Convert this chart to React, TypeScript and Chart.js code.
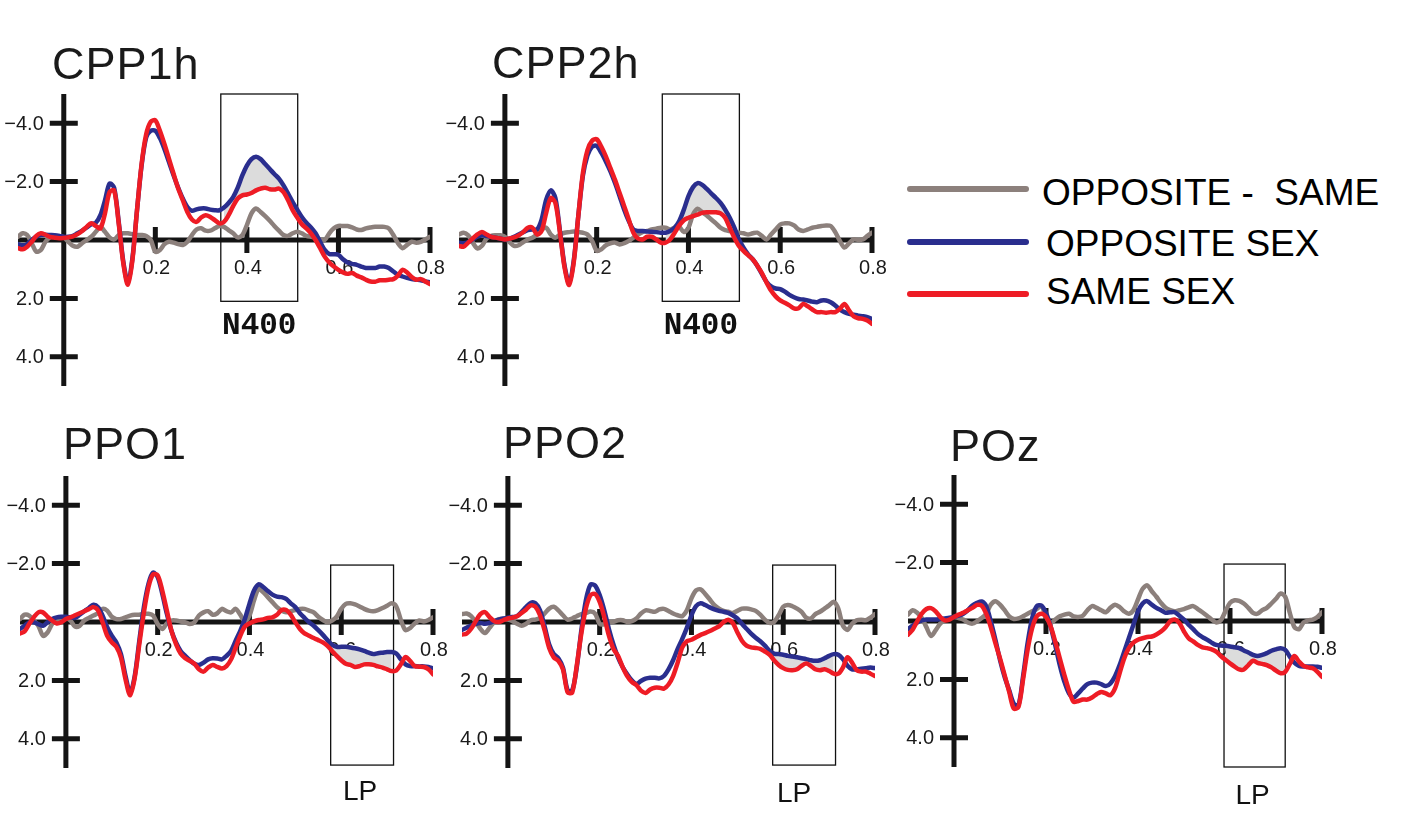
import React, { useEffect, useRef } from "react";
import { Chart, registerables } from "chart.js";

Chart.register(...registerables);

// ---------- data ----------
const TIME = [
  -0.1, -0.09, -0.08, -0.07, -0.06, -0.05, -0.04, -0.03, -0.02, -0.01,
  0.0, 0.01, 0.02, 0.03, 0.04, 0.05, 0.06, 0.07, 0.08, 0.09,
  0.1, 0.11, 0.12, 0.13, 0.14, 0.15, 0.16, 0.17, 0.18, 0.19,
  0.2, 0.21, 0.22, 0.23, 0.24, 0.25, 0.26, 0.27, 0.28, 0.29,
  0.3, 0.31, 0.32, 0.33, 0.34, 0.35, 0.36, 0.37, 0.38, 0.39,
  0.4, 0.41, 0.42, 0.43, 0.44, 0.45, 0.46, 0.47, 0.48, 0.49,
  0.5, 0.51, 0.52, 0.53, 0.54, 0.55, 0.56, 0.57, 0.58, 0.59,
  0.6, 0.61, 0.62, 0.63, 0.64, 0.65, 0.66, 0.67, 0.68, 0.69,
  0.7, 0.71, 0.72, 0.73, 0.74, 0.75, 0.76, 0.77, 0.78, 0.79, 0.8,
];

const X_TICKS = [0.2, 0.4, 0.6, 0.8];
const X_TICK_LABELS = ["0.2", "0.4", "0.6", "0.8"];
const Y_TICKS = [-4, -2, 2, 4];
const Y_TICK_LABELS = ["\u22124.0", "\u22122.0", "2.0", "4.0"];

const N400_WINDOW = [0.343, 0.511];
const LP_WINDOW = [0.577, 0.714];
const POZ_LP_WINDOW = [0.587, 0.72];

const SERIES_NAMES = ["OPPOSITE -  SAME", "OPPOSITE SEX", "SAME SEX"];

const CPP1H_SAME = [
  0.28, 0.32, 0.23, 0.06, -0.14, -0.23, -0.18, -0.11, -0.08, -0.06,
  -0.07, -0.09, -0.12, -0.2, -0.31, -0.45, -0.57, -0.48, -0.4, -0.91,
  -1.64, -1.7, -0.57, 0.79, 1.53, 0.68, -1.02, -2.6, -3.62, -4.05,
  -4.1, -3.74, -3.28, -2.77, -2.26, -1.76, -1.36, -0.96, -0.7, -0.62,
  -0.77, -0.85, -0.79, -0.68, -0.57, -0.62, -0.85, -1.16, -1.42, -1.53,
  -1.56, -1.61, -1.7, -1.76, -1.79, -1.74, -1.73, -1.76, -1.64, -1.36,
  -1.02, -0.77, -0.54, -0.4, -0.23, 0, 0.28, 0.57, 0.77, 0.91,
  1.02, 1.11, 1.16, 1.13, 1.22, 1.28, 1.36, 1.42, 1.43, 1.38,
  1.38, 1.36, 1.34, 1.22, 1.02, 1.11, 1.27, 1.36, 1.34, 1.42, 1.51,
];
const CPP1H_OPP = [
  0.14, 0.18, 0.14, 0, -0.11, -0.17, -0.18, -0.17, -0.16, -0.14,
  -0.11, -0.11, -0.14, -0.23, -0.32, -0.43, -0.54, -0.59, -0.85, -1.36,
  -1.93, -1.79, -0.62, 0.74, 1.45, 0.62, -1.02, -2.55, -3.51, -3.74,
  -3.74, -3.49, -3.11, -2.66, -2.21, -1.79, -1.42, -1.13, -1.0, -1.05,
  -1.08, -1.08, -1.04, -1.02, -1.02, -1.11, -1.27, -1.47, -1.79, -2.21,
  -2.55, -2.77, -2.85, -2.77, -2.6, -2.43, -2.26, -2.1, -1.87, -1.59,
  -1.3, -1.04, -0.79, -0.59, -0.43, -0.23, 0.06, 0.34, 0.48, 0.49,
  0.51, 0.66, 0.77, 0.82, 0.85, 0.91, 0.96, 0.96, 0.96, 0.91,
  0.91, 0.96, 1.08, 1.19, 1.25, 1.3, 1.34, 1.36, 1.38, 1.42, 1.45,
];
const CPP1H_DIFF = [
  -0.11, -0.23, -0.17, 0.11, 0.4, 0.34, 0.06, -0.09, -0.11, -0.14,
  -0.09, 0.06, 0.2, 0.23, 0.11, 0, -0.11, -0.28, -0.45, -0.28,
  -0.09, -0.02, -0.17, -0.23, -0.23, -0.2, -0.17, -0.17, -0.14, 0,
  0.4, 0.34, 0.14, 0.06, 0.09, 0.14, 0.17, 0.06, -0.17, -0.36,
  -0.4, -0.32, -0.32, -0.4, -0.48, -0.45, -0.34, -0.23, -0.09, -0.17,
  -0.51, -0.91, -1.08, -0.96, -0.82, -0.66, -0.48, -0.32, -0.17, -0.14,
  -0.23, -0.28, -0.23, -0.14, -0.11, -0.09, -0.02, 0, -0.23, -0.4,
  -0.48, -0.48, -0.48, -0.43, -0.36, -0.34, -0.4, -0.43, -0.45, -0.45,
  -0.45, -0.4, -0.17, 0.11, 0.28, 0.17, 0.06, 0.09, 0.06, -0.02, -0.11,
];

const CPP2H_SAME = [
  0.2, 0.23, 0.09, -0.05, -0.19, -0.27, -0.19, -0.11, -0.08, -0.05,
  -0.02, -0.05, -0.09, -0.16, -0.27, -0.42, -0.42, -0.19, -0.31, -0.93,
  -1.44, -1.27, -0.25, 0.94, 1.54, 0.77, -0.82, -2.29, -3.08, -3.4,
  -3.45, -3.2, -2.86, -2.46, -2.06, -1.61, -1.16, -0.7, -0.25, -0.05,
  -0.02, -0.11, -0.11, -0.02, 0.09, 0.09, -0.02, -0.25, -0.5, -0.68,
  -0.76, -0.82, -0.87, -0.93, -0.95, -0.95, -0.95, -0.91, -0.76, -0.42,
  -0.08, 0.2, 0.37, 0.52, 0.66, 0.88, 1.13, 1.45, 1.73, 1.93,
  2.07, 2.15, 2.24, 2.34, 2.34, 2.19, 2.27, 2.38, 2.47, 2.47,
  2.49, 2.47, 2.47, 2.36, 2.19, 2.41, 2.61, 2.68, 2.7, 2.76, 2.87,
];
const CPP2H_OPP = [
  0.09, 0.11, 0.07, -0.02, -0.11, -0.16, -0.14, -0.11, -0.08, -0.05,
  -0.02, -0.05, -0.11, -0.19, -0.27, -0.34, -0.36, -0.36, -0.7, -1.38,
  -1.7, -1.44, -0.31, 0.88, 1.47, 0.71, -0.82, -2.2, -2.9, -3.2,
  -3.22, -2.99, -2.69, -2.35, -1.95, -1.5, -1.04, -0.65, -0.36, -0.31,
  -0.31, -0.29, -0.28, -0.27, -0.25, -0.25, -0.31, -0.42, -0.65, -1.04,
  -1.5, -1.81, -1.95, -1.89, -1.75, -1.59, -1.44, -1.27, -1.04, -0.76,
  -0.42, -0.02, 0.26, 0.49, 0.66, 0.88, 1.16, 1.43, 1.59, 1.66,
  1.68, 1.77, 1.88, 1.96, 2.02, 2.04, 2.07, 2.11, 2.13, 2.07,
  2.07, 2.13, 2.24, 2.38, 2.47, 2.53, 2.56, 2.59, 2.61, 2.64, 2.7,
];
const CPP2H_DIFF = [
  -0.19, -0.25, -0.16, 0.09, 0.29, 0.2, -0.05, -0.14, -0.16, -0.16,
  -0.11, 0.07, 0.2, 0.18, 0.07, -0.02, -0.08, -0.19, -0.36, -0.42,
  -0.19, -0.08, -0.19, -0.25, -0.27, -0.29, -0.27, -0.25, -0.19, 0.03,
  0.37, 0.32, 0.18, 0.11, 0.09, 0.15, 0.11, 0.03, -0.08, -0.19,
  -0.27, -0.31, -0.36, -0.39, -0.42, -0.42, -0.36, -0.42, -0.45, -0.27,
  -0.42, -0.87, -1.07, -0.95, -0.84, -0.7, -0.57, -0.42, -0.34, -0.31,
  -0.27, -0.25, -0.23, -0.19, -0.23, -0.25, -0.14, -0.02, -0.19, -0.36,
  -0.53, -0.57, -0.57, -0.5, -0.36, -0.31, -0.36, -0.42, -0.45, -0.48,
  -0.5, -0.48, -0.27, 0.03, 0.26, 0.11, -0.02, 0, -0.02, -0.14, -0.25,
];

const PPO1_SAME = [
  0.39, 0.32, 0.07, -0.16, -0.33, -0.33, -0.18, -0.05, 0.05, 0.01,
  -0.1, -0.16, -0.23, -0.3, -0.37, -0.44, -0.51, -0.4, 0.01, 0.47,
  0.7, 0.85, 1.22, 1.97, 2.51, 1.91, 0.76, -0.33, -1.2, -1.63,
  -1.6, -1.08, -0.39, 0.3, 0.76, 1.08, 1.24, 1.33, 1.43, 1.62,
  1.7, 1.56, 1.47, 1.54, 1.59, 1.51, 1.28, 0.87, 0.47, 0.16,
  0.05, -0.02, -0.07, -0.09, -0.14, -0.16, -0.25, -0.41, -0.41, -0.25,
  0.01, 0.24, 0.39, 0.47, 0.55, 0.62, 0.7, 0.82, 0.99, 1.16,
  1.31, 1.43, 1.47, 1.54, 1.51, 1.45, 1.45, 1.47, 1.52, 1.56,
  1.62, 1.68, 1.66, 1.45, 1.2, 1.33, 1.51, 1.53, 1.54, 1.62, 1.79,
];
const PPO1_OPP = [
  0.24, 0.13, 0.01, 0.01, 0.07, 0.13, 0.01, -0.1, -0.16, -0.18,
  -0.18, -0.16, -0.14, -0.25, -0.37, -0.48, -0.59, -0.51, -0.22, 0.18,
  0.47, 0.7, 1.1, 1.85, 2.43, 1.85, 0.64, -0.51, -1.31, -1.69,
  -1.54, -0.97, -0.28, 0.3, 0.7, 0.99, 1.16, 1.31, 1.43, 1.47,
  1.39, 1.28, 1.24, 1.25, 1.28, 1.16, 0.99, 0.64, 0.3, -0.1,
  -0.62, -1.08, -1.29, -1.2, -1.06, -0.94, -0.87, -0.85, -0.79, -0.64,
  -0.51, -0.3, -0.14, 0.01, 0.13, 0.28, 0.44, 0.62, 0.78, 0.85,
  0.85, 0.85, 0.87, 0.9, 0.94, 0.99, 1.05, 1.1, 1.07, 1.05,
  1.03, 1.03, 1.08, 1.28, 1.45, 1.51, 1.51, 1.52, 1.52, 1.54, 1.59,
];
const PPO1_DIFF = [
  -0.1, -0.25, -0.22, -0.05, 0.13, 0.47, 0.36, 0.07, -0.07, -0.14,
  -0.14, -0.05, 0.16, 0.13, -0.05, -0.14, -0.22, -0.3, -0.45, -0.39,
  -0.18, -0.1, -0.1, -0.16, -0.22, -0.25, -0.25, -0.28, -0.28, -0.22,
  0.07, 0.24, 0.05, -0.05, -0.05, -0.02, 0.01, 0.07, 0.01, -0.22,
  -0.33, -0.37, -0.25, -0.3, -0.45, -0.37, -0.33, -0.45, -0.25, -0.02,
  -0.22, -0.74, -1.14, -1.02, -0.85, -0.68, -0.51, -0.39, -0.33, -0.37,
  -0.41, -0.45, -0.45, -0.39, -0.33, -0.18, -0.07, 0.01, -0.05, -0.18,
  -0.45, -0.62, -0.64, -0.6, -0.53, -0.45, -0.39, -0.37, -0.41, -0.48,
  -0.56, -0.64, -0.53, -0.07, 0.28, 0.21, 0.05, -0.05, -0.02, -0.07, -0.16,
];

const PPO2_SAME = [
  0.43, 0.4, 0.23, -0.03, -0.27, -0.34, -0.17, -0.03, 0, -0.06,
  -0.12, -0.15, -0.2, -0.31, -0.43, -0.57, -0.52, -0.23, 0.29, 0.89,
  1.21, 1.33, 1.62, 2.4, 2.42, 1.5, 0.4, -0.46, -0.92, -0.96,
  -0.69, -0.17, 0.46, 0.92, 1.16, 1.54, 1.85, 2.05, 2.16, 2.35,
  2.43, 2.31, 2.25, 2.25, 2.28, 2.14, 1.85, 1.39, 0.87, 0.66,
  0.61, 0.52, 0.44, 0.38, 0.31, 0.23, 0.15, 0, -0.08, 0.03,
  0.35, 0.64, 0.81, 0.87, 0.89, 0.92, 1.01, 1.12, 1.31, 1.47,
  1.58, 1.64, 1.65, 1.62, 1.5, 1.42, 1.5, 1.62, 1.65, 1.62,
  1.68, 1.77, 1.77, 1.56, 1.21, 1.39, 1.65, 1.7, 1.7, 1.77, 1.85,
];
const PPO2_OPP = [
  0.27, 0.2, 0.12, 0.06, 0.03, 0.06, 0.03, -0.03, -0.08, -0.12,
  -0.15, -0.17, -0.2, -0.35, -0.52, -0.66, -0.64, -0.4, 0.15, 0.77,
  1.1, 1.24, 1.56, 2.33, 2.35, 1.56, 0.29, -0.75, -1.28, -1.25,
  -0.92, -0.4, 0.23, 0.77, 1.21, 1.54, 1.79, 2, 2.12, 2.02,
  1.94, 1.91, 1.91, 1.93, 1.85, 1.62, 1.31, 0.92, 0.58, 0.2,
  -0.23, -0.54, -0.64, -0.58, -0.5, -0.43, -0.38, -0.35, -0.31, -0.23,
  -0.12, 0.06, 0.23, 0.4, 0.54, 0.66, 0.81, 0.98, 1.08, 1.1,
  1.12, 1.16, 1.18, 1.21, 1.24, 1.27, 1.31, 1.33, 1.31, 1.24,
  1.16, 1.1, 1.12, 1.27, 1.5, 1.62, 1.62, 1.6, 1.58, 1.56, 1.58,
];
const PPO2_DIFF = [
  -0.27, -0.29, -0.2, 0, 0.23, 0.38, 0.2, 0, -0.1, -0.1,
  -0.08, -0.03, 0.06, 0.13, 0.06, -0.06, -0.08, -0.14, -0.29, -0.46,
  -0.52, -0.4, -0.23, -0.08, -0.12, -0.2, -0.27, -0.31, -0.36, -0.29,
  0.06, 0.08, 0.01, -0.01, -0.06, -0.06, 0, -0.03, -0.12, -0.29,
  -0.4, -0.38, -0.35, -0.43, -0.45, -0.38, -0.29, -0.23, -0.2, -0.4,
  -0.81, -1.08, -1.12, -0.96, -0.77, -0.58, -0.46, -0.38, -0.35, -0.31,
  -0.38, -0.46, -0.46, -0.43, -0.38, -0.25, -0.08, 0.03, 0, -0.23,
  -0.52, -0.58, -0.54, -0.46, -0.35, -0.15, -0.12, -0.27, -0.35, -0.46,
  -0.57, -0.69, -0.46, 0.12, 0.27, 0.06, -0.06, -0.08, -0.06, -0.15, -0.27,
];

const POZ_SAME = [
  0.47, 0.3, 0.01, -0.25, -0.41, -0.44, -0.33, -0.14, -0.02, -0.05,
  -0.14, -0.22, -0.28, -0.37, -0.45, -0.55, -0.53, -0.25, 0.21, 0.76,
  1.28, 1.85, 2.43, 3.0, 2.95, 2.02, 0.99, 0.24, -0.16, -0.25,
  -0.14, 0.18, 0.7, 1.28, 1.85, 2.37, 2.77, 2.74, 2.69, 2.69,
  2.62, 2.51, 2.43, 2.48, 2.54, 2.31, 1.79, 1.28, 0.93, 0.74,
  0.64, 0.59, 0.55, 0.53, 0.46, 0.36, 0.21, 0.01, -0.05, 0.07,
  0.36, 0.59, 0.7, 0.82, 0.9, 0.93, 0.97, 1.05, 1.2, 1.33,
  1.45, 1.56, 1.66, 1.66, 1.51, 1.36, 1.43, 1.47, 1.51, 1.59,
  1.7, 1.79, 1.74, 1.47, 1.2, 1.39, 1.54, 1.59, 1.62, 1.74, 1.91,
];
const POZ_OPP = [
  0.28, 0.16, 0.05, -0.02, -0.05, -0.05, -0.05, -0.07, -0.09, -0.11,
  -0.14, -0.18, -0.25, -0.37, -0.53, -0.62, -0.67, -0.51, 0.01, 0.64,
  1.33, 1.91, 2.37, 2.83, 2.89, 1.91, 0.76, -0.1, -0.51, -0.53,
  -0.28, 0.18, 0.82, 1.51, 2.08, 2.48, 2.62, 2.48, 2.31, 2.16,
  2.11, 2.11, 2.16, 2.23, 2.14, 1.89, 1.51, 1.05, 0.59, 0.13,
  -0.33, -0.6, -0.68, -0.56, -0.45, -0.37, -0.28, -0.3, -0.3, -0.18,
  -0.05, 0.13, 0.28, 0.44, 0.55, 0.64, 0.74, 0.82, 0.84, 0.85,
  0.87, 0.9, 0.93, 1.01, 1.08, 1.16, 1.2, 1.16, 1.1, 1.02,
  0.97, 0.93, 0.99, 1.22, 1.43, 1.54, 1.56, 1.56, 1.56, 1.57, 1.6,
];
const POZ_DIFF = [
  -0.22, -0.37, -0.28, -0.1, 0.21, 0.51, 0.32, 0.09, -0.02, -0.09,
  -0.14, -0.1, -0.05, 0.05, 0.09, 0.01, -0.1, -0.25, -0.56, -0.68,
  -0.56, -0.37, -0.16, -0.07, -0.09, -0.16, -0.25, -0.33, -0.41, -0.51,
  -0.16, 0.07, -0.05, -0.16, -0.22, -0.25, -0.16, -0.14, -0.18, -0.37,
  -0.51, -0.45, -0.37, -0.3, -0.45, -0.56, -0.48, -0.33, -0.25, -0.37,
  -0.74, -1.1, -1.22, -1.02, -0.83, -0.62, -0.45, -0.37, -0.33, -0.37,
  -0.41, -0.47, -0.51, -0.41, -0.3, -0.18, -0.05, 0.05, -0.02, -0.33,
  -0.62, -0.71, -0.69, -0.6, -0.45, -0.28, -0.25, -0.37, -0.45, -0.6,
  -0.76, -0.94, -0.83, -0.28, 0.21, 0.28, 0.05, -0.02, -0.05, -0.14, -0.3,
];

// ---------- styles / layout ----------
const COLORS = {
  diff: "#8c807c",
  opp: "#2a2e8e",
  same: "#ee1c25",
  shade: "#dcdcdc",
  axis: "#141414",
  text: "#1a1a1a",
};
const SANS = '"Liberation Sans", Arial, Helvetica, sans-serif';
const PAD = { left: 18, right: 26, top: 8, bottom: 48 };
const LINE_W = 4.5;

type PanelDef = {
  title: string;
  same: number[];
  opp: number[];
  diff: number[];
  win: number[];
  winTop: number;
  winBottom: number;
  winLabel: string;
  mono: boolean;
  labelDx: number;
  labelGap: number;
  area: { left: number; right: number; top: number; bottom: number };
  titleX: number;
  titleBase: number;
};

const PANELS: PanelDef[] = [
  {
    title: "CPP1h", same: CPP1H_SAME, opp: CPP1H_OPP, diff: CPP1H_DIFF,
    win: N400_WINDOW, winTop: -5, winBottom: 2.1, winLabel: "N400", mono: true, labelDx: 0, labelGap: 33,
    area: { left: 18, right: 430, top: 94, bottom: 386 }, titleX: 52, titleBase: 79,
  },
  {
    title: "CPP2h", same: CPP2H_SAME, opp: CPP2H_OPP, diff: CPP2H_DIFF,
    win: N400_WINDOW, winTop: -5, winBottom: 2.1, winLabel: "N400", mono: true, labelDx: 0, labelGap: 33,
    area: { left: 459, right: 872, top: 94, bottom: 386 }, titleX: 492, titleBase: 78,
  },
  {
    title: "PPO1", same: PPO1_SAME, opp: PPO1_OPP, diff: PPO1_DIFF,
    win: LP_WINDOW, winTop: -1.95, winBottom: 4.9, winLabel: "LP", mono: false, labelDx: -2, labelGap: 35,
    area: { left: 20, right: 433, top: 476, bottom: 768 }, titleX: 63, titleBase: 459,
  },
  {
    title: "PPO2", same: PPO2_SAME, opp: PPO2_OPP, diff: PPO2_DIFF,
    win: LP_WINDOW, winTop: -1.95, winBottom: 4.9, winLabel: "LP", mono: false, labelDx: -10, labelGap: 37,
    area: { left: 462, right: 875, top: 476, bottom: 768 }, titleX: 503, titleBase: 458,
  },
  {
    title: "POz", same: POZ_SAME, opp: POZ_OPP, diff: POZ_DIFF,
    win: POZ_LP_WINDOW, winTop: -1.95, winBottom: 5.0, winLabel: "LP", mono: false, labelDx: -2, labelGap: 37,
    area: { left: 908, right: 1322, top: 475, bottom: 767 }, titleX: 950, titleBase: 461,
  },
];

function makeAxesPlugin(p: PanelDef) {
  return {
    id: "erpAxes",
    beforeDatasetsDraw(chart: any) {
      const { ctx, scales } = chart;
      const xs = scales.x;
      const ys = scales.y;
      const x0 = xs.getPixelForValue(0);
      const y0 = ys.getPixelForValue(0);
      ctx.save();
      ctx.strokeStyle = COLORS.axis;
      ctx.lineCap = "butt";
      ctx.lineWidth = 5;
      // main axes
      ctx.beginPath();
      ctx.moveTo(x0, ys.getPixelForValue(-5));
      ctx.lineTo(x0, ys.getPixelForValue(5));
      ctx.moveTo(xs.getPixelForValue(-0.1), y0);
      ctx.lineTo(xs.getPixelForValue(0.8), y0);
      ctx.stroke();
      // tick crosses
      ctx.beginPath();
      Y_TICKS.forEach((v) => {
        const py = ys.getPixelForValue(v);
        ctx.moveTo(x0 - 14, py);
        ctx.lineTo(x0 + 14, py);
      });
      X_TICKS.forEach((v) => {
        const px = xs.getPixelForValue(v);
        ctx.moveTo(px, y0 - 13);
        ctx.lineTo(px, y0 + 13);
      });
      ctx.stroke();
      // tick labels
      ctx.fillStyle = COLORS.text;
      ctx.font = `20px ${SANS}`;
      ctx.textAlign = "right";
      ctx.textBaseline = "middle";
      Y_TICKS.forEach((v, i) => {
        ctx.fillText(Y_TICK_LABELS[i], x0 - 20, ys.getPixelForValue(v) + 1);
      });
      ctx.textAlign = "center";
      X_TICKS.forEach((v, i) => {
        ctx.fillText(X_TICK_LABELS[i], xs.getPixelForValue(v) + 1, y0 + 28);
      });
      // analysis window box
      const bx0 = xs.getPixelForValue(p.win[0]);
      const bx1 = xs.getPixelForValue(p.win[1]);
      const by0 = ys.getPixelForValue(p.winTop);
      const by1 = ys.getPixelForValue(p.winBottom);
      ctx.lineWidth = 1.3;
      ctx.strokeStyle = "#111";
      ctx.strokeRect(bx0, by0, bx1 - bx0, by1 - by0);
      // window label
      ctx.textBaseline = "alphabetic";
      ctx.textAlign = "center";
      ctx.font = p.mono
        ? `bold 31px "Liberation Mono", "DejaVu Sans Mono", monospace`
        : `28px ${SANS}`;
      ctx.fillStyle = "#111";
      ctx.fillText(p.winLabel, (bx0 + bx1) / 2 + p.labelDx, by1 + p.labelGap);
      ctx.restore();
    },
  };
}

function ErpPanel({ p }: { p: PanelDef }) {
  const ref = useRef<HTMLCanvasElement>(null);
  const W = p.area.right - p.area.left + PAD.left + PAD.right;
  const H = p.area.bottom - p.area.top + PAD.top + PAD.bottom;

  useEffect(() => {
    if (!ref.current) return;
    const pts = (vals: number[]) => TIME.map((t, i) => ({ x: t, y: vals[i] }));
    const inWin = (t: number) => t >= p.win[0] - 1e-9 && t <= p.win[1] + 1e-9;
    const winPts = (vals: number[]) => pts(vals).filter((d) => inWin(d.x));
    const common = { pointRadius: 0, pointHoverRadius: 0, tension: 0.3, borderJoinStyle: "round", borderCapStyle: "round" };
    const chart = new Chart(ref.current, {
      type: "line",
      data: {
        datasets: [
          { ...common, label: SERIES_NAMES[2], data: pts(p.same), borderColor: COLORS.same, borderWidth: LINE_W, fill: false, order: 0 },
          { ...common, label: SERIES_NAMES[1], data: pts(p.opp), borderColor: COLORS.opp, borderWidth: LINE_W, fill: false, order: 1 },
          { ...common, label: SERIES_NAMES[0], data: pts(p.diff), borderColor: COLORS.diff, borderWidth: LINE_W, fill: false, order: 2 },
          { ...common, label: "shade", data: winPts(p.opp), borderColor: "rgba(0,0,0,0)", borderWidth: 0, backgroundColor: COLORS.shade, fill: 4, order: 3 },
          { ...common, label: "shadeBase", data: winPts(p.same), borderColor: "rgba(0,0,0,0)", borderWidth: 0, fill: false, order: 4 },
        ],
      } as any,
      options: {
        responsive: false,
        animation: false,
        events: [],
        devicePixelRatio: 1,
        layout: { padding: { ...PAD } },
        scales: {
          x: { type: "linear", min: -0.1, max: 0.8, display: false },
          y: { type: "linear", min: -5, max: 5, reverse: true, display: false },
        },
        plugins: {
          legend: { display: false },
          tooltip: { enabled: false },
          title: { display: false },
        },
      } as any,
      plugins: [makeAxesPlugin(p)],
    });
    return () => chart.destroy();
  }, [p]);

  return (
    <div style={{ position: "absolute", left: p.area.left - PAD.left, top: p.area.top - PAD.top, width: W, height: H }}>
      <canvas ref={ref} width={W} height={H} style={{ display: "block", width: W, height: H }} />
    </div>
  );
}

function Title({ text, x, base }: { text: string; x: number; base: number }) {
  const F = 45;
  return (
    <div
      style={{
        position: "absolute",
        left: x,
        top: base - 0.8465 * F,
        fontFamily: SANS,
        fontSize: F,
        lineHeight: `${F}px`,
        letterSpacing: "1px",
        color: COLORS.text,
        whiteSpace: "pre",
      }}
    >
      {text}
    </div>
  );
}

const LEGEND_ROWS = [
  { name: SERIES_NAMES[0], color: COLORS.diff, lineY: 189, textX: 1042, base: 205 },
  { name: SERIES_NAMES[1], color: COLORS.opp, lineY: 242, textX: 1046, base: 256 },
  { name: SERIES_NAMES[2], color: COLORS.same, lineY: 294, textX: 1046, base: 304 },
];

export default function App() {
  const F = 37;
  return (
    <div style={{ position: "absolute", left: 0, top: 0, width: 1418, height: 830, background: "#fff", overflow: "hidden" }}>
      {PANELS.map((p) => (
        <ErpPanel key={p.title} p={p} />
      ))}
      {PANELS.map((p) => (
        <Title key={"t" + p.title} text={p.title} x={p.titleX} base={p.titleBase} />
      ))}
      {LEGEND_ROWS.map((r) => (
        <React.Fragment key={r.name}>
          <div
            style={{
              position: "absolute",
              left: 907,
              top: r.lineY - 3,
              width: 122,
              height: 6,
              borderRadius: 3,
              background: r.color,
            }}
          />
          <div
            style={{
              position: "absolute",
              left: r.textX,
              top: r.base - 0.8465 * F,
              fontFamily: SANS,
              fontSize: F,
              lineHeight: `${F}px`,
              color: "#000",
              whiteSpace: "pre",
            }}
          >
            {r.name}
          </div>
        </React.Fragment>
      ))}
    </div>
  );
}
